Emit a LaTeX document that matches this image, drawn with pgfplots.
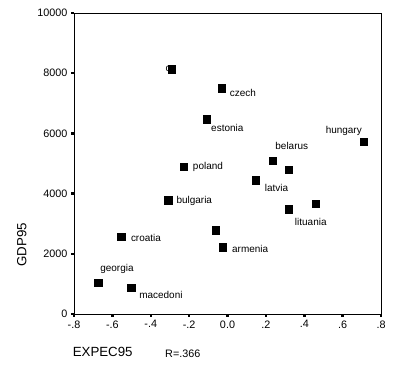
\documentclass[border=0pt]{standalone}
\usepackage{pgfplots}
\pgfplotsset{compat=1.18}
\usepackage{fontspec}
\setmainfont{Liberation Sans}
\begin{document}
\begin{tikzpicture}
\path[use as bounding box] (0,0) rectangle (411bp,370bp);
\begin{axis}[
  at={(74bp,56bp)}, anchor=south west,
  scale only axis, width=307bp, height=301bp,
  xmin=-0.8, xmax=0.8, ymin=0, ymax=10000,
  scaled y ticks=false, scaled x ticks=false,
  axis line style={line width=0.8bp},
  xtick={-0.8,-0.6,-0.4,-0.2,0,0.2,0.4,0.6,0.8},
  xticklabels={-.8,-.6,-.4,-.2,0.0,.2,.4,.6,.8},
  ytick={0,2000,4000,6000,8000,10000},
  yticklabels={0,2000,4000,6000,8000,10000},
  tick align=outside, major tick length=3bp,
  every tick/.style={line width=2.5bp, black},
  tick pos=left,
  tick label style={font=\fontsize{10.8bp}{12bp}\selectfont},
  clip=false,
  every node/.append style={font=\fontsize{10.8bp}{12bp}\selectfont, inner sep=0pt},
]
\node at (axis cs:-0.310,8140) {c};
\addplot[only marks, mark=square*, mark size=3.7bp, mark options={fill=black, draw=black, line width=0.3bp}] coordinates {
(-0.291,8140) (-0.031,7498) (-0.109,6478) (0.709,5724) (0.235,5094)
(0.318,4795) (0.148,4452) (-0.229,4894) (-0.309,3787) (-0.555,2569)
(-0.675,1041) (-0.503,874) (0.318,3488) (0.459,3665) (-0.062,2791)
(-0.026,2226)
};
\node at (axis cs:0.080,7359) {czech};
\node at (axis cs:-0.001,6196) {estonia};
\node at (axis cs:0.606,6096) {hungary};
\node at (axis cs:0.335,5581) {belarus};
\node at (axis cs:0.255,4203) {latvia};
\node at (axis cs:-0.102,4884) {poland};
\node at (axis cs:-0.173,3771) {bulgaria};
\node at (axis cs:-0.425,2542) {croatia};
\node at (axis cs:-0.576,1495) {georgia};
\node at (axis cs:-0.347,648) {macedoni};
\node at (axis cs:0.434,3073) {lituania};
\node at (axis cs:0.118,2176) {armenia};
\end{axis}
\node[font=\fontsize{13.3bp}{15bp}\selectfont, rotate=90] at (21.7bp,125bp) {GDP95};
\node[font=\fontsize{13.3bp}{15bp}\selectfont] at (102.7bp,18.3bp) {EXPEC95};
\node[font=\fontsize{10.8bp}{12bp}\selectfont] at (182.8bp,16.7bp) {R=.366};
\end{tikzpicture}
\end{document}
